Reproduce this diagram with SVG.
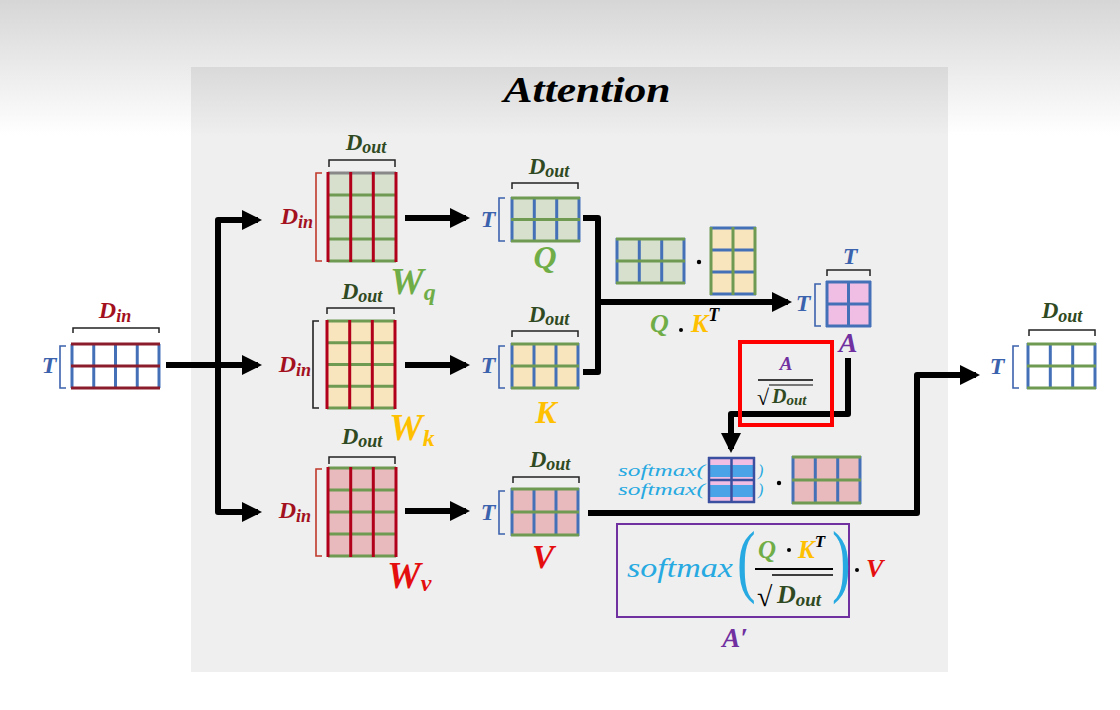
<svg xmlns="http://www.w3.org/2000/svg" width="1120" height="710" viewBox="0 0 1120 710">
<defs>
<linearGradient id="bgG" x1="0" y1="0" x2="0" y2="1"><stop offset="0" stop-color="#d6d6d6"/><stop offset="1" stop-color="#ffffff"/></linearGradient>
<linearGradient id="panG" x1="0" y1="0" x2="0" y2="1"><stop offset="0" stop-color="#d9d9d9"/><stop offset="1" stop-color="#efefef"/></linearGradient>
<marker id="ah" markerUnits="userSpaceOnUse" markerWidth="20" markerHeight="20" refX="16" refY="10" orient="auto"><path d="M0,0 L20,10 L0,20 z" fill="#000"/></marker>
</defs>
<style>
.m{font-family:"Liberation Serif",serif;font-weight:bold;font-style:italic}
.din{fill:#a3101e;font-size:24px}
.dout{fill:#2f4a22;font-size:23px}
.sub{font-size:18px}
.t{fill:#3b62ad;font-size:24px}
.conn{fill:none;stroke:#000;stroke-width:6;stroke-linejoin:round}
.gB{stroke:#4470b8;stroke-width:3}
.gG{stroke:#6f9a52;stroke-width:3}
.gR{stroke:#b0001a;stroke-width:3}
.gDR{stroke:#8b1c2b;stroke-width:3}
.br{fill:none;stroke-width:1.6}
.brace{fill:none;stroke:#222;stroke-width:1.5}
.fG{fill:#d6e0cd}.fT{fill:#f8e5be}.fP{fill:#e8babd}.fA{fill:#f0bde5}
.sm{font-family:"Liberation Serif",serif;font-style:italic;fill:#27a9e1}
.par{font-family:"Liberation Serif",serif;fill:#27a9e1}
</style>
<rect x="0" y="0" width="1120" height="710" fill="#fff"/>
<rect x="0" y="0" width="1120" height="135" fill="url(#bgG)"/>
<rect x="191" y="67" width="757" height="605" fill="#efefef"/>
<rect x="191" y="67" width="757" height="70" fill="url(#panG)"/>
<text class="m" x="587" y="102" font-size="36" text-anchor="middle" textLength="167" lengthAdjust="spacingAndGlyphs" fill="#000">Attention</text>

<g id="connectors">
<path class="conn" d="M166,365 H258" marker-end="url(#ah)"/>
<path class="conn" d="M218,365 V220 H258" marker-end="url(#ah)"/>
<path class="conn" d="M218,365 V512 H258" marker-end="url(#ah)"/>
<path class="conn" d="M405,218 H466" marker-end="url(#ah)"/>
<path class="conn" d="M405,365 H466" marker-end="url(#ah)"/>
<path class="conn" d="M405,511 H466" marker-end="url(#ah)"/>
<path class="conn" d="M583,218 H598 V372 H583"/>
<path class="conn" d="M598,302 H788" marker-end="url(#ah)"/>
<path class="conn" d="M848,358 V414 H731 V449" marker-end="url(#ah)"/>
<path class="conn" d="M588,513 H917 V375 H976" marker-end="url(#ah)"/>
</g>

<g id="input">
<path class="brace" d="M73,333 V328 H159 V333"/>
<text class="m din" x="115" y="318" text-anchor="middle">D<tspan class="sub" dy="4">in</tspan></text>
<text class="m t" x="49" y="373" text-anchor="middle">T</text>
<path class="br" stroke="#3b62ad" d="M66,346 H60 V388 H66"/>
<g class="gB"><line x1="72" y1="344" x2="72" y2="388"/><line x1="93.75" y1="344" x2="93.75" y2="388"/><line x1="115.5" y1="344" x2="115.5" y2="388"/><line x1="137.25" y1="344" x2="137.25" y2="388"/><line x1="159" y1="344" x2="159" y2="388"/></g>
<g class="gDR"><line x1="71" y1="344" x2="160" y2="344"/><line x1="71" y1="366" x2="160" y2="366"/><line x1="71" y1="388" x2="160" y2="388"/></g>
</g>

<g id="Wq">
<path class="brace" d="M329,167 V160 H395 V167"/>
<text class="m dout" x="366" y="150" text-anchor="middle">D<tspan class="sub" dy="3">out</tspan></text>
<text class="m din" x="313" y="224" text-anchor="end">D<tspan class="sub" dy="4">in</tspan></text>
<path class="br" stroke="#c0392b" d="M322,173 H316 V261 H322"/>
<rect class="fG" x="328" y="173" width="68" height="88"/>
<g class="gG"><line x1="328" y1="173" x2="396" y2="173" stroke="#888"/><line x1="328" y1="195" x2="396" y2="195"/><line x1="328" y1="217" x2="396" y2="217"/><line x1="328" y1="239" x2="396" y2="239"/><line x1="328" y1="261" x2="396" y2="261"/></g>
<g class="gR"><line x1="328" y1="172" x2="328" y2="262"/><line x1="350.7" y1="172" x2="350.7" y2="262"/><line x1="373.3" y1="172" x2="373.3" y2="262"/><line x1="396" y1="172" x2="396" y2="262"/></g>
<text class="m" x="390" y="294" font-size="38" fill="#70ad47">W<tspan font-size="24" dy="6">q</tspan></text>
</g>

<g id="Wk">
<path class="brace" d="M327,314 V308 H394 V314"/>
<text class="m dout" x="362" y="299" text-anchor="middle">D<tspan class="sub" dy="3">out</tspan></text>
<text class="m din" x="311" y="372" text-anchor="end">D<tspan class="sub" dy="4">in</tspan></text>
<path class="br" stroke="#222" d="M319,321 H313 V408 H319"/>
<rect class="fT" x="327" y="321" width="68" height="87"/>
<g class="gG"><line x1="327" y1="321" x2="395" y2="321"/><line x1="327" y1="342.75" x2="395" y2="342.75"/><line x1="327" y1="364.5" x2="395" y2="364.5"/><line x1="327" y1="386.25" x2="395" y2="386.25"/><line x1="327" y1="408" x2="395" y2="408"/></g>
<g class="gR"><line x1="327" y1="320" x2="327" y2="409"/><line x1="349.7" y1="320" x2="349.7" y2="409"/><line x1="372.3" y1="320" x2="372.3" y2="409"/><line x1="395" y1="320" x2="395" y2="409"/></g>
<text class="m" x="389" y="440" font-size="38" fill="#ffc000">W<tspan font-size="24" dy="6">k</tspan></text>
</g>

<g id="Wv">
<path class="brace" d="M329,464 V457 H395 V464"/>
<text class="m dout" x="362" y="444" text-anchor="middle">D<tspan class="sub" dy="3">out</tspan></text>
<text class="m din" x="311" y="518" text-anchor="end">D<tspan class="sub" dy="4">in</tspan></text>
<path class="br" stroke="#c0392b" d="M322,469 H316 V556 H322"/>
<rect class="fP" x="328" y="468" width="68" height="88"/>
<g class="gG"><line x1="328" y1="468" x2="396" y2="468"/><line x1="328" y1="490" x2="396" y2="490"/><line x1="328" y1="512" x2="396" y2="512"/><line x1="328" y1="534" x2="396" y2="534"/><line x1="328" y1="556" x2="396" y2="556"/></g>
<g class="gR"><line x1="328" y1="467" x2="328" y2="557"/><line x1="350.7" y1="467" x2="350.7" y2="557"/><line x1="373.3" y1="467" x2="373.3" y2="557"/><line x1="396" y1="467" x2="396" y2="557"/></g>
<text class="m" x="387" y="588" font-size="38" fill="#e50e0e">W<tspan font-size="24" dy="3">v</tspan></text>
</g>

<g id="Q">
<path class="brace" d="M512,189 V183 H578 V189"/>
<text class="m dout" x="549" y="174" text-anchor="middle">D<tspan class="sub" dy="3">out</tspan></text>
<text class="m t" x="488" y="227" text-anchor="middle">T</text>
<path class="br" stroke="#3b62ad" d="M505,198 H499 V241 H505"/>
<rect class="fG" x="512" y="198" width="67" height="43"/>
<g class="gB"><line x1="512" y1="197" x2="512" y2="242"/><line x1="534.3" y1="197" x2="534.3" y2="242"/><line x1="556.7" y1="197" x2="556.7" y2="242"/><line x1="579" y1="197" x2="579" y2="242"/></g>
<g class="gG"><line x1="511" y1="198" x2="580" y2="198"/><line x1="511" y1="219.5" x2="580" y2="219.5"/><line x1="511" y1="241" x2="580" y2="241"/></g>
<text class="m" x="545" y="268" font-size="32" fill="#70ad47" text-anchor="middle">Q</text>
</g>

<g id="K">
<path class="brace" d="M512,337 V331 H578 V337"/>
<text class="m dout" x="549" y="322" text-anchor="middle">D<tspan class="sub" dy="3">out</tspan></text>
<text class="m t" x="488" y="373" text-anchor="middle">T</text>
<path class="br" stroke="#3b62ad" d="M505,346 H499 V388 H505"/>
<rect class="fT" x="512" y="344" width="66" height="44"/>
<g class="gB"><line x1="512" y1="343" x2="512" y2="389"/><line x1="534" y1="343" x2="534" y2="389"/><line x1="556" y1="343" x2="556" y2="389"/><line x1="578" y1="343" x2="578" y2="389"/></g>
<g class="gG"><line x1="511" y1="344" x2="579" y2="344"/><line x1="511" y1="366" x2="579" y2="366"/><line x1="511" y1="388" x2="579" y2="388"/></g>
<text class="m" x="546" y="423" font-size="32" fill="#ffc000" text-anchor="middle">K</text>
</g>

<g id="V">
<path class="brace" d="M513,483 V477 H579 V483"/>
<text class="m dout" x="550" y="467" text-anchor="middle">D<tspan class="sub" dy="3">out</tspan></text>
<text class="m t" x="488" y="520" text-anchor="middle">T</text>
<path class="br" stroke="#3b62ad" d="M505,491 H499 V534 H505"/>
<rect class="fP" x="512" y="489" width="66" height="46"/>
<g class="gB"><line x1="512" y1="488" x2="512" y2="536"/><line x1="534" y1="488" x2="534" y2="536"/><line x1="556" y1="488" x2="556" y2="536"/><line x1="578" y1="488" x2="578" y2="536"/></g>
<g class="gG"><line x1="511" y1="489" x2="579" y2="489"/><line x1="511" y1="512" x2="579" y2="512"/><line x1="511" y1="535" x2="579" y2="535"/></g>
<text class="m" x="543" y="568" font-size="33" fill="#e50e0e" text-anchor="middle">V</text>
</g>

<g id="QKt">
<rect class="fG" x="617" y="239" width="67" height="44"/>
<g class="gB"><line x1="617" y1="238" x2="617" y2="284"/><line x1="639.3" y1="238" x2="639.3" y2="284"/><line x1="661.7" y1="238" x2="661.7" y2="284"/><line x1="684" y1="238" x2="684" y2="284"/></g>
<g class="gG"><line x1="616" y1="239" x2="685" y2="239"/><line x1="616" y1="261" x2="685" y2="261"/><line x1="616" y1="283" x2="685" y2="283"/></g>
<circle cx="699" cy="262" r="2.2" fill="#000"/>
<rect class="fT" x="711" y="228" width="44" height="66"/>
<g class="gB"><line x1="710" y1="228" x2="756" y2="228"/><line x1="710" y1="250" x2="756" y2="250"/><line x1="710" y1="272" x2="756" y2="272"/><line x1="710" y1="294" x2="756" y2="294"/></g>
<g class="gG"><line x1="711" y1="227" x2="711" y2="295"/><line x1="733" y1="227" x2="733" y2="295"/><line x1="755" y1="227" x2="755" y2="295"/></g>
<text class="m" x="650" y="332" font-size="26" fill="#70ad47">Q</text>
<circle cx="681" cy="330" r="2" fill="#000"/>
<text class="m" x="691" y="332" font-size="26" fill="#ffc000">K<tspan fill="#000" font-size="18" dy="-11">T</tspan></text>
</g>

<g id="A">
<path class="brace" d="M827,276 V270 H870 V276"/>
<text class="m t" x="850" y="264" text-anchor="middle">T</text>
<text class="m t" x="803" y="311" text-anchor="middle">T</text>
<path class="br" stroke="#3b62ad" d="M821,284 H815 V326 H821"/>
<rect class="fA" x="827" y="282" width="43" height="44"/>
<g class="gB"><line x1="826" y1="282" x2="871" y2="282"/><line x1="826" y1="304" x2="871" y2="304"/><line x1="826" y1="326" x2="871" y2="326"/><line x1="827" y1="281" x2="827" y2="327"/><line x1="848.5" y1="281" x2="848.5" y2="327"/><line x1="870" y1="281" x2="870" y2="327"/></g>
<text class="m" x="848" y="352" font-size="28" fill="#7030a0" text-anchor="middle">A</text>
</g>

<g id="scale">
<rect x="740" y="342" width="92" height="83" fill="none" stroke="#ff0000" stroke-width="4"/>
<text class="m" x="786" y="370" font-size="19" fill="#7030a0" text-anchor="middle">A</text>
<line x1="758" y1="380" x2="813" y2="380" stroke="#000" stroke-width="1.5"/>
<text x="757" y="405" font-family="Liberation Serif,serif" font-size="22" fill="#000">√</text>
<text class="m" x="772" y="403" font-size="20" fill="#2f4a22">D<tspan font-size="15" dy="2">out</tspan></text>
<line x1="769" y1="385" x2="813" y2="385" stroke="#000" stroke-width="1.2"/>
</g>

<g id="softmaxRow">
<text class="sm" x="618" y="476" font-size="16" textLength="87" lengthAdjust="spacingAndGlyphs">softmax(</text>
<text class="sm" x="618" y="495" font-size="16" textLength="87" lengthAdjust="spacingAndGlyphs">softmax(</text>
<rect x="709" y="458" width="45" height="44" fill="#f0bde5"/>
<rect x="709" y="465" width="45" height="12" fill="#4aa3e6"/>
<rect x="709" y="485" width="45" height="12" fill="#4aa3e6"/>
<g stroke="#3b4fa0" stroke-width="2.5"><line x1="708" y1="458" x2="755" y2="458"/><line x1="708" y1="480" x2="755" y2="480"/><line x1="708" y1="502" x2="755" y2="502"/><line x1="709" y1="457" x2="709" y2="503"/><line x1="731.5" y1="457" x2="731.5" y2="503"/><line x1="754" y1="457" x2="754" y2="503"/></g>
<text class="sm" x="758" y="476" font-size="16">)</text>
<text class="sm" x="758" y="495" font-size="16">)</text>
<circle cx="779" cy="483" r="2.2" fill="#000"/>
<rect class="fP" x="793" y="457" width="67" height="46"/>
<g class="gB"><line x1="793" y1="456" x2="793" y2="504"/><line x1="815.3" y1="456" x2="815.3" y2="504"/><line x1="837.7" y1="456" x2="837.7" y2="504"/><line x1="860" y1="456" x2="860" y2="504"/></g>
<g class="gG"><line x1="792" y1="457" x2="861" y2="457"/><line x1="792" y1="480" x2="861" y2="480"/><line x1="792" y1="503" x2="861" y2="503"/></g>
</g>

<g id="formula">
<rect x="617" y="524" width="232" height="93" fill="none" stroke="#7030a0" stroke-width="2"/>
<text class="sm" x="627" y="577" font-size="27" textLength="106" lengthAdjust="spacingAndGlyphs">softmax</text>
<text class="par" x="737" y="405" font-size="56" transform="scale(1,1.45)">(</text>
<text class="par" x="832" y="405" font-size="56" transform="scale(1,1.45)">)</text>
<text class="m" x="758" y="558" font-size="25" fill="#70ad47">Q</text>
<circle cx="789" cy="550" r="2" fill="#000"/>
<text class="m" x="798" y="558" font-size="25" fill="#ffc000">K<tspan fill="#000" font-size="17" dy="-11">T</tspan></text>
<line x1="755" y1="569" x2="833" y2="569" stroke="#000" stroke-width="2"/>
<text x="757" y="606" font-family="Liberation Serif,serif" font-size="28" fill="#000">√</text>
<line x1="772" y1="575" x2="833" y2="575" stroke="#000" stroke-width="1.5"/>
<text class="m" x="777" y="603" font-size="26" fill="#2f4a22">D<tspan font-size="19" dy="3">out</tspan></text>
<circle cx="857" cy="570" r="2" fill="#000"/>
<text class="m" x="866" y="577" font-size="26" fill="#e50e0e">V</text>
<text class="m" x="735" y="647" font-size="27" fill="#7030a0" text-anchor="middle">A′</text>
</g>

<g id="output">
<path class="brace" d="M1029,336 V330 H1095 V336"/>
<text class="m dout" x="1062" y="318" text-anchor="middle">D<tspan class="sub" dy="4">out</tspan></text>
<text class="m t" x="997" y="374" text-anchor="middle">T</text>
<path class="br" stroke="#3b62ad" d="M1019,346 H1013 V388 H1019"/>
<g class="gB"><line x1="1028" y1="343" x2="1028" y2="389"/><line x1="1050.3" y1="343" x2="1050.3" y2="389"/><line x1="1072.7" y1="343" x2="1072.7" y2="389"/><line x1="1095" y1="343" x2="1095" y2="389"/></g>
<g class="gG"><line x1="1027" y1="344" x2="1096" y2="344"/><line x1="1027" y1="366" x2="1096" y2="366"/><line x1="1027" y1="388" x2="1096" y2="388"/></g>
</g>
</svg>
